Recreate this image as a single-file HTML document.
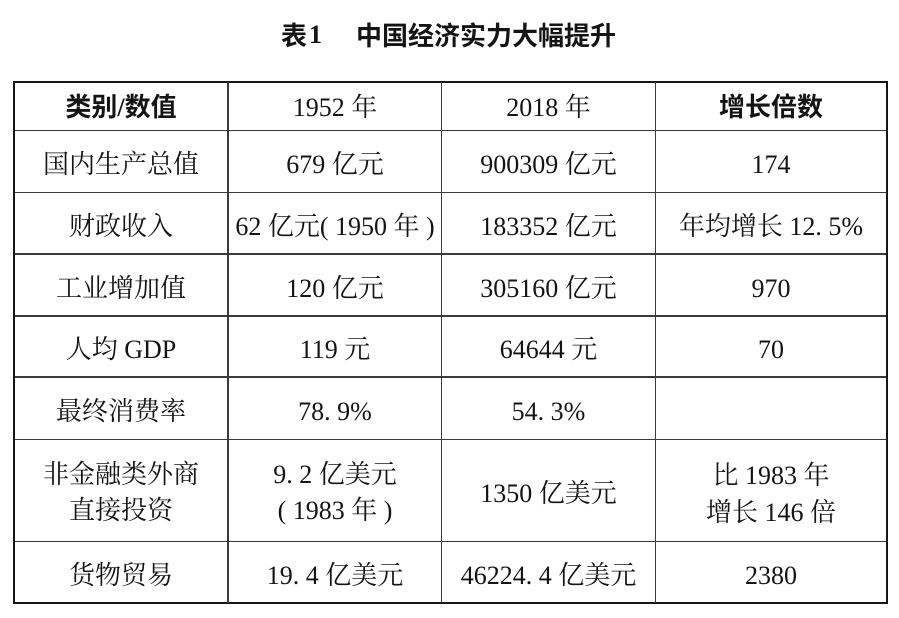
<!DOCTYPE html>
<html lang="zh">
<head>
<meta charset="utf-8">
<style>
  html, body { margin: 0; padding: 0; background: #fff; }
  body { width: 899px; height: 618px; position: relative; overflow: hidden;
         font-family: "Liberation Serif", "Noto Serif CJK SC", "Noto Serif CJK JP", "Noto Serif SC", "Source Han Serif SC", "AR PL UMing CN", serif; color: #141414; }
  .ln { position: absolute; background: #3a3a3a; }
  .ob { position: absolute; background: #161616; }
  .t { position: absolute; height: 26px; line-height: 26px; font-size: 26px;
       text-align: center; white-space: nowrap; }
  .c1 { left: 15px; width: 212px; }
  .c2 { left: 229px; width: 212px; }
  .c3 { left: 442px; width: 213px; }
  .c4 { left: 656px; width: 230px; }
  .hei { font-family: "Liberation Serif", "Noto Sans CJK SC", sans-serif; font-weight: 600; }
  .title { position: absolute; top: 21px; height: 28px; line-height: 28px; font-size: 26px; white-space: nowrap; }
</style>
</head>
<body>

<!-- Title -->
<div class="title" style="left:281px; font-family:'Noto Sans CJK SC',sans-serif; font-weight:600;">表</div>
<div class="title" style="left:309px; font-family:'Liberation Serif',serif; font-weight:bold;">1</div>
<div class="title" style="left:356px; font-family:'Noto Sans CJK SC',sans-serif; font-weight:600;">中国经济实力大幅提升</div>

<!-- Outer border -->
<div class="ob" style="left:12.5px; top:80.5px; width:875.5px; height:2.5px;"></div>
<div class="ob" style="left:12.5px; top:601.5px; width:875.5px; height:2.5px;"></div>
<div class="ob" style="left:12.5px; top:80.5px; width:2.5px; height:523.5px;"></div>
<div class="ob" style="left:885.5px; top:80.5px; width:2.5px; height:523.5px;"></div>

<!-- Inner horizontal lines -->
<div class="ln" style="left:15px; width:871px; top:129.5px; height:1.8px;"></div>
<div class="ln" style="left:15px; width:871px; top:191.5px; height:1.8px;"></div>
<div class="ln" style="left:15px; width:871px; top:253.3px; height:1.8px;"></div>
<div class="ln" style="left:15px; width:871px; top:315.2px; height:1.8px;"></div>
<div class="ln" style="left:15px; width:871px; top:376.3px; height:1.8px;"></div>
<div class="ln" style="left:15px; width:871px; top:438.5px; height:1.8px;"></div>
<div class="ln" style="left:15px; width:871px; top:540.5px; height:1.8px;"></div>

<!-- Inner vertical lines -->
<div class="ln" style="left:227.2px; width:1.6px; top:82px; height:521px;"></div>
<div class="ln" style="left:440.8px; width:1.6px; top:82px; height:521px;"></div>
<div class="ln" style="left:654.5px; width:1.6px; top:82px; height:521px;"></div>

<!-- Header -->
<div class="t c1 hei" style="top:95px;">类别/数值</div>
<div class="t c2" style="top:95px;">1952 年</div>
<div class="t c3" style="top:95px;">2018 年</div>
<div class="t c4 hei" style="top:95px;">增长倍数</div>

<!-- Row 1 -->
<div class="t c1" style="top:151.5px;">国内生产总值</div>
<div class="t c2" style="top:151.5px;">679 亿元</div>
<div class="t c3" style="top:151.5px;">900309 亿元</div>
<div class="t c4" style="top:151.5px;">174</div>

<!-- Row 2 -->
<div class="t c1" style="top:213.5px;">财政收入</div>
<div class="t c2" style="top:213.5px;">62 亿元( 1950 年 )</div>
<div class="t c3" style="top:213.5px;">183352 亿元</div>
<div class="t c4" style="top:213.5px;">年均增长 12. 5%</div>

<!-- Row 3 -->
<div class="t c1" style="top:275.5px;">工业增加值</div>
<div class="t c2" style="top:275.5px;">120 亿元</div>
<div class="t c3" style="top:275.5px;">305160 亿元</div>
<div class="t c4" style="top:275.5px;">970</div>

<!-- Row 4 -->
<div class="t c1" style="top:337px;">人均 GDP</div>
<div class="t c2" style="top:337px;">119 元</div>
<div class="t c3" style="top:337px;">64644 元</div>
<div class="t c4" style="top:337px;">70</div>

<!-- Row 5 -->
<div class="t c1" style="top:398.5px;">最终消费率</div>
<div class="t c2" style="top:398.5px;">78. 9%</div>
<div class="t c3" style="top:398.5px;">54. 3%</div>

<!-- Row 6 -->
<div class="t c1" style="top:461.5px;">非金融类外商</div>
<div class="t c1" style="top:497.5px;">直接投资</div>
<div class="t c2" style="top:462px;">9. 2 亿美元</div>
<div class="t c2" style="top:498px;">( 1983 年 )</div>
<div class="t c3" style="top:481px;">1350 亿美元</div>
<div class="t c4" style="top:462.5px;">比 1983 年</div>
<div class="t c4" style="top:499.5px;">增长 146 倍</div>

<!-- Row 7 -->
<div class="t c1" style="top:563px;">货物贸易</div>
<div class="t c2" style="top:563px;">19. 4 亿美元</div>
<div class="t c3" style="top:563px;">46224. 4 亿美元</div>
<div class="t c4" style="top:563px;">2380</div>

</body>
</html>
